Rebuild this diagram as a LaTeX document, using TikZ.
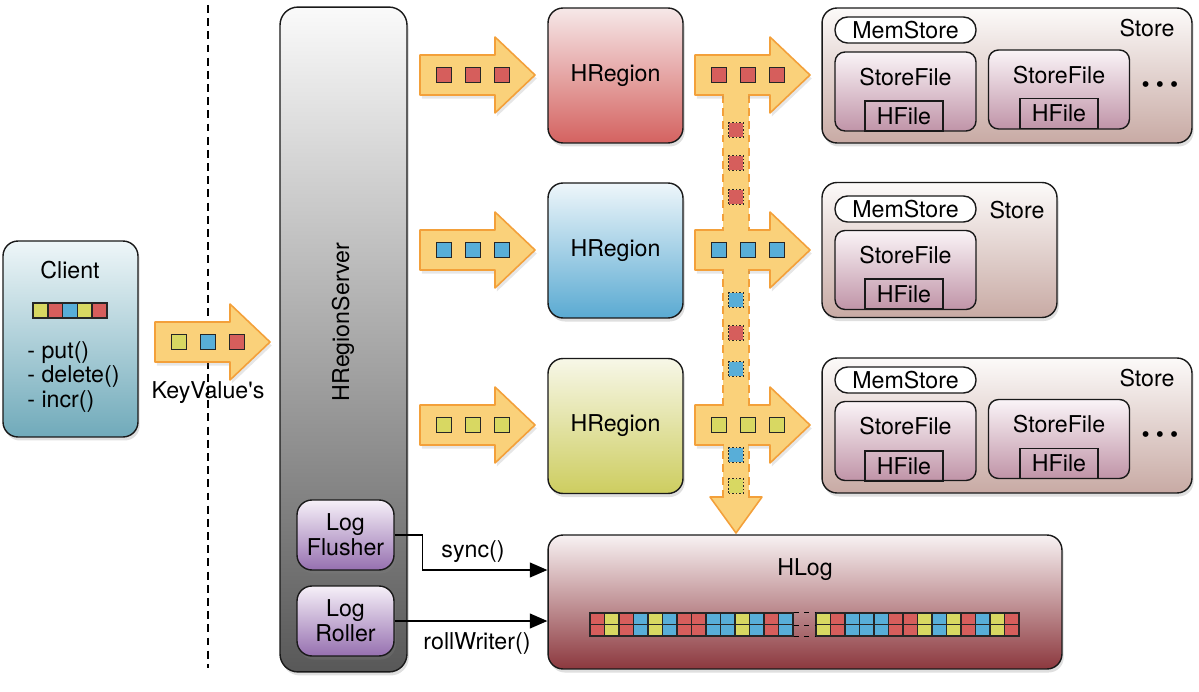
\documentclass[tikz,border=0pt]{standalone}
\usepackage{fontspec}
\setmainfont{TeX Gyre Heros}
\usetikzlibrary{shadows,arrows.meta,calc,positioning}
\definecolor{kvred}{RGB}{214,94,92}
\definecolor{kvyellow}{RGB}{216,216,98}
\definecolor{kvblue}{RGB}{88,174,216}
\definecolor{arrowfill}{RGB}{250,209,122}
\definecolor{arrowedge}{RGB}{243,160,58}
\definecolor{clienttop}{RGB}{238,246,248}
\definecolor{clientbottom}{RGB}{112,170,186}
\definecolor{servertop}{RGB}{250,250,250}
\definecolor{serverbottom}{RGB}{88,88,88}
\definecolor{logtop}{RGB}{246,240,248}
\definecolor{logbottom}{RGB}{150,112,176}
\definecolor{redtop}{RGB}{246,232,232}
\definecolor{redbottom}{RGB}{212,98,96}
\definecolor{bluetop}{RGB}{238,246,250}
\definecolor{bluebottom}{RGB}{90,170,210}
\definecolor{yellowtop}{RGB}{247,247,232}
\definecolor{yellowbottom}{RGB}{205,205,95}
\definecolor{storetop}{RGB}{252,250,249}
\definecolor{storebottom}{RGB}{200,170,164}
\definecolor{filetop}{RGB}{250,244,247}
\definecolor{filebottom}{RGB}{192,148,168}
\definecolor{hlogtop}{RGB}{248,242,243}
\definecolor{hlogbottom}{RGB}{140,56,62}

\begin{document}
\begin{tikzpicture}[
    x=0.02cm, y=-0.02cm,
    every node/.style={font=\fontsize{13.2pt}{14pt}\selectfont},
    box/.style={draw=black!90, line width=0.8pt, drop shadow={opacity=0.25, shadow xshift=1pt, shadow yshift=-2pt}},
    client/.style={box, rounded corners=0.3cm, top color=clienttop, bottom color=clientbottom, minimum width=2.7cm, minimum height=3.92cm},
    server/.style={box, rounded corners=0.36cm, top color=servertop, bottom color=serverbottom, minimum width=2.54cm, minimum height=13.3cm},
    logbox/.style={box, rounded corners=0.3cm, top color=logtop, bottom color=logbottom, minimum width=1.94cm, minimum height=1.4cm, align=center, font=\fontsize{13.2pt}{14.2pt}\selectfont},
    region/.style={box, rounded corners=0.3cm, minimum width=2.7cm, minimum height=2.7cm},
    store/.style={box, rounded corners=0.3cm, top color=storetop, bottom color=storebottom, minimum height=2.7cm},
    memstore/.style={draw=black!90, line width=0.8pt, fill=white, rounded corners=0.25cm, minimum width=2.82cm, minimum height=0.52cm, inner sep=0pt},
    storefile/.style={draw=black!90, line width=0.8pt, rounded corners=0.2cm, top color=filetop, bottom color=filebottom, minimum width=2.82cm, minimum height=1.58cm},
    hfile/.style={draw=black!90, line width=0.8pt, minimum width=1.56cm, minimum height=0.6cm, inner sep=0pt},
    hlog/.style={box, rounded corners=0.3cm, top color=hlogtop, bottom color=hlogbottom, minimum width=10.28cm, minimum height=2.68cm},
    kv/.style={draw=black!85, line width=0.8pt, minimum size=0.29cm, inner sep=0pt},
    kvdot/.style={kv, dash pattern=on 0.9pt off 1.1pt},
    kvbar/.style={draw=black!85, line width=0.8pt, minimum width=0.296cm, minimum height=0.3cm, inner sep=0pt},
    logcell/.style={draw=black!85, line width=0.7pt, minimum width=0.29cm, minimum height=0.23cm, inner sep=0pt},
    conn/.style={-{Triangle[length=10pt,width=8.5pt]}, line width=0.8pt},
    divider/.style={line width=0.9pt, dash pattern=on 4.5pt off 3pt},
    trunkedge/.style={arrowedge, line width=0.9pt, dash pattern=on 4.5pt off 3pt},
    pics/kvarrow/.style n args={3}{code={
        \fill[arrowfill, draw=arrowedge, line width=0.9pt, line join=round, drop shadow={opacity=0.2, shadow xshift=1pt, shadow yshift=-2pt}]
            (0,-20) -- (75,-20) -- (75,-38) -- (115,0) -- (75,38) -- (75,20) -- (0,20) -- cycle;
        \node[kv, fill=#1] (-a) at (24,0) {};
        \node[kv, fill=#2] (-b) at (53,0) {};
        \node[kv, fill=#3] (-c) at (82,0) {};
    }}
]
\useasboundingbox (0,0) rectangle (1199,692);

% Client side
\node[client] (client) at (70.5,339) {};
\node (clientlabel) at (70,270) {Client};
\foreach \c [count=\i from 0] in {kvyellow,kvred,kvblue,kvyellow,kvred}
    \node[kvbar, fill=\c] (bar\i) at (40.4+14.8*\i,310.5) {};
\node[align=left, anchor=west, inner sep=0pt] (ops) at (27,377) {- put()\\- delete()\\- incr()};

% Divider between client and server
\coordinate (divtop) at (208,5);
\coordinate (divbottom) at (208,668);
\draw[divider] (divtop) -- (divbottom);

% KeyValues sent to the server
\pic (kv) at (155,342) {kvarrow={kvyellow}{kvblue}{kvred}};
\node (kvlabel) at (208,393) {KeyValue\textquotesingle s};

% Region server
\node[server] (server) at (343.5,339.5) {};
\node[rotate=90] (serverlabel) at (343,322) {HRegionServer};
\node[logbox] (flusher) at (345.5,535) {Log\\Flusher};
\node[logbox] (roller) at (345.5,621) {Log\\Roller};

% Incoming arrows
\pic (in1) at (420,75) {kvarrow={kvred}{kvred}{kvred}};
\pic (in2) at (420,250) {kvarrow={kvblue}{kvblue}{kvblue}};
\pic (in3) at (420,425) {kvarrow={kvyellow}{kvyellow}{kvyellow}};

% Regions
\node[region, top color=redtop, bottom color=redbottom] (region1) at (615.5,75.5) {HRegion};
\node[region, top color=bluetop, bottom color=bluebottom] (region2) at (615.5,250.5) {HRegion};
\node[region, top color=yellowtop, bottom color=yellowbottom] (region3) at (615.5,426) {HRegion};

% Trunk down to the log
\fill[arrowfill] (723,94) rectangle (749,498);
\draw[trunkedge] (723,95) -- (723,497) (749,95) -- (749,497);

% Outgoing arrows
\pic (out1) at (695,75) {kvarrow={kvred}{kvred}{kvred}};
\pic (out2) at (695,250) {kvarrow={kvblue}{kvblue}{kvblue}};
\pic (out3) at (695,425) {kvarrow={kvyellow}{kvyellow}{kvyellow}};

\fill[arrowfill, draw=arrowedge, line width=0.9pt, line join=round] (710,497) -- (762,497) -- (736,533) -- cycle;
\fill[arrowfill] (723.9,94) rectangle (748.1,231);
\fill[arrowfill] (723.9,269) rectangle (748.1,406);
\fill[arrowfill] (723.9,444) rectangle (748.1,498.5);

\foreach \y/\c [count=\i] in {130/kvred,163/kvred,197/kvred,300/kvblue,333/kvred,369/kvblue,455/kvblue,486/kvyellow}
    \node[kvdot, fill=\c] (drop\i) at (736,\y) {};

% Stores
\node[store, minimum width=7.4cm] (store1) at (1007,75.5) {};
\node (store1label) at (1147,28) {Store};
\node[memstore] (mem1) at (905.5,30) {MemStore};
\node[storefile] (sf1a) at (905.5,91.5) {};
\node (sf1alabel) at (905.5,77) {StoreFile};
\node[hfile] (hf1a) at (904,116) {HFile};
\node[storefile] (sf1b) at (1059,89.5) {};
\node (sf1blabel) at (1059,75) {StoreFile};
\node[hfile] (hf1b) at (1059,113.5) {HFile};
\node (more1) at (1160,87) {\textbullet\hspace{3.5pt}\textbullet\hspace{3.5pt}\textbullet};

\node[store, minimum width=4.7cm] (store2) at (939.5,250) {};
\node (store2label) at (1017,210) {Store};
\node[memstore] (mem2) at (905.5,209) {MemStore};
\node[storefile] (sf2a) at (905.5,270) {};
\node (sf2alabel) at (905.5,255) {StoreFile};
\node[hfile] (hf2a) at (904,294) {HFile};

\node[store, minimum width=7.4cm] (store3) at (1007,425.5) {};
\node (store3label) at (1147,378) {Store};
\node[memstore] (mem3) at (905.5,380) {MemStore};
\node[storefile] (sf3a) at (905.5,441) {};
\node (sf3alabel) at (905.5,426) {StoreFile};
\node[hfile] (hf3a) at (904,466) {HFile};
\node[storefile] (sf3b) at (1059,439) {};
\node (sf3blabel) at (1059,424) {StoreFile};
\node[hfile] (hf3b) at (1059,463.5) {HFile};
\node (more3) at (1160,437) {\textbullet\hspace{3.5pt}\textbullet\hspace{3.5pt}\textbullet};

% Write ahead log
\node[hlog] (hlog) at (805,602) {};
\node (hloglabel) at (805,570) {HLog};
\foreach \c [count=\i from 0] in {kvred,kvyellow,kvred,kvblue,kvyellow,kvblue,kvred,kvred,kvblue,kvblue,kvyellow,kvblue,kvred,kvblue} {
    \node[logcell, fill=\c] (cellA\i) at (597.25+14.5*\i,618.8) {};
    \node[logcell, fill=\c] (cellB\i) at (597.25+14.5*\i,630.3) {};
}
\foreach \c [count=\i from 0] in {kvyellow,kvred,kvblue,kvblue,kvblue,kvred,kvred,kvyellow,kvblue,kvyellow,kvred,kvblue,kvyellow,kvred} {
    \node[logcell, fill=\c] (cellC\i) at (823.25+14.5*\i,618.8) {};
    \node[logcell, fill=\c] (cellD\i) at (823.25+14.5*\i,630.3) {};
}
\draw[line width=0.7pt, dash pattern=on 3pt off 3pt] (cellA13.north east) -- (cellC0.north west);
\draw[line width=0.7pt, dash pattern=on 3pt off 3pt] (cellA13.south east) -- (cellC0.south west);
\draw[line width=0.7pt, dash pattern=on 3pt off 3pt] (cellB13.south east) -- (cellD0.south west);

% Log flushing and rolling
\draw[conn] (flusher.east) -- ++(28,0) |- ($(hlog.west)+(0,-32)$);
\node (synclabel) at (473,552) {sync()};
\draw[conn] (roller.east) -- (roller.east -| hlog.west);
\node (rolllabel) at (477,643) {rollWriter()};

\end{tikzpicture}
\end{document}
